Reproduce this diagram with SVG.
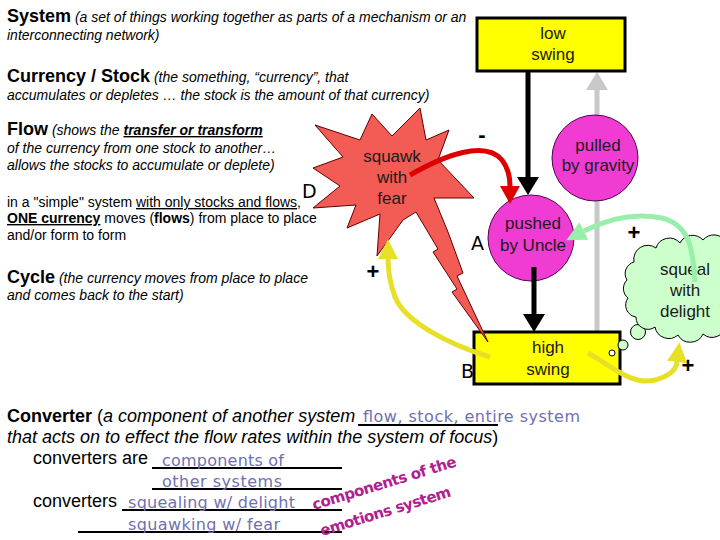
<svg xmlns="http://www.w3.org/2000/svg" width="720" height="540" viewBox="0 0 720 540">
<style>
  .sans { font-family: "Liberation Sans", Arial, sans-serif; fill: #000; }
  .h { font-weight: bold; font-size: 18px; }
  .it { font-style: italic; font-size: 14px; }
  .body { font-size: 14px; }
  .big { font-size: 18px; }
  .node { font-family: "Liberation Sans", Arial, sans-serif; font-size: 17px; fill: #1a1a1a; text-anchor: middle; }
  .hand { font-family: "DejaVu Sans", sans-serif; font-size: 16px; fill: #7070b0; }
  .hand2 { font-family: "DejaVu Sans", sans-serif; font-size: 15px; font-weight: bold; fill: #b0208f; }
  .letter { font-family: "DejaVu Sans", sans-serif; font-size: 19px; fill: #000; }
  .sign { font-family: "Liberation Sans", Arial, sans-serif; font-size: 22px; font-weight: bold; fill: #000; text-anchor: middle; }
  .blank { stroke: #000; stroke-width: 2; }
  .box { fill: #ffff00; stroke: #000; stroke-width: 3; }
  .circ { fill: #f03cd2; stroke: #500050; stroke-width: 1; }
  .arrow { fill: none; stroke-width: 5; }
</style>
<defs>
  <marker id="ah-black" viewBox="0 0 18 22" refX="0" refY="11" markerWidth="18" markerHeight="22" orient="auto" markerUnits="userSpaceOnUse"><path d="M0,0 L18,11 L0,22 Z" fill="#000"/></marker>
  <marker id="ah-gray" viewBox="0 0 18 22" refX="0" refY="11" markerWidth="18" markerHeight="22" orient="auto" markerUnits="userSpaceOnUse"><path d="M0,0 L18,11 L0,22 Z" fill="#c8c8c8"/></marker>
  <marker id="ah-red" viewBox="0 0 18 20" refX="0" refY="10" markerWidth="18" markerHeight="20" orient="auto" markerUnits="userSpaceOnUse"><path d="M0,0 L18,10 L0,20 Z" fill="#dd0000"/></marker>
  <marker id="ah-yellow" viewBox="0 0 20 20" refX="0" refY="10" markerWidth="20" markerHeight="20" orient="auto" markerUnits="userSpaceOnUse"><path d="M0,0 L20,10 L0,20 Z" fill="#e8e028"/></marker>
  <marker id="ah-green" viewBox="0 0 20 20" refX="0" refY="10" markerWidth="20" markerHeight="20" orient="auto" markerUnits="userSpaceOnUse"><path d="M0,0 L20,10 L0,20 Z" fill="#99eeaa"/></marker>
</defs>
<rect width="720" height="540" fill="#fff"/>

<g id="text-definitions" class="sans">
  <text x="7" y="22"><tspan class="h">System</tspan><tspan class="it"> (a set of things working together as parts of a mechanism or an</tspan></text>
  <text x="7" y="40" class="it">interconnecting network)</text>
  <text x="7" y="82"><tspan class="h">Currency / Stock</tspan><tspan class="it"> (the something, “currency”, that</tspan></text>
  <text x="7" y="100" class="it">accumulates or depletes … the stock is the amount of that currency)</text>
  <text x="7" y="135"><tspan class="h">Flow</tspan><tspan class="it"> (shows the </tspan><tspan class="it" font-weight="bold" text-decoration="underline">transfer or transform</tspan></text>
  <text x="7" y="153" class="it">of the currency from one stock to another…</text>
  <text x="7" y="170" class="it">allows the stocks to accumulate or deplete)</text>
  <text x="7" y="207" class="body">in a "simple" system <tspan text-decoration="underline">with only stocks and flows</tspan>,</text>
  <text x="7" y="223" class="body"><tspan font-weight="bold" text-decoration="underline">ONE currency</tspan> moves (<tspan font-weight="bold">flows</tspan>) from place to place</text>
  <text x="7" y="240" class="body">and/or form to form</text>
  <text x="7" y="283"><tspan class="h">Cycle</tspan><tspan class="it"> (the currency moves from place to place</tspan></text>
  <text x="7" y="300" class="it">and comes back to the start)</text>
</g>

<g id="text-converter" class="sans">
  <text x="7" y="422" class="big"><tspan font-weight="bold">Converter</tspan> (<tspan font-style="italic">a component of another system</tspan></text>
  <text x="7" y="443" class="big"><tspan font-style="italic">that acts on to effect the flow rates within the system of focus</tspan>)</text>
  <text x="33" y="464" class="big">converters are</text>
  <text x="33" y="507" class="big">converters</text>
  <line class="blank" x1="358" y1="425" x2="498" y2="425"/>
  <line class="blank" x1="152" y1="468" x2="342" y2="468"/>
  <line class="blank" x1="152" y1="489" x2="342" y2="489"/>
  <line class="blank" x1="122" y1="510" x2="342" y2="510"/>
  <line class="blank" x1="78" y1="532" x2="342" y2="532"/>
  <text x="363" y="422" class="hand" textLength="217">flow, stock, entire system</text>
  <text x="162" y="466" class="hand" textLength="122">components of</text>
  <text x="162" y="487" class="hand" textLength="120">other systems</text>
  <text x="128" y="508" class="hand" textLength="167">squealing w/ delight</text>
  <text x="128" y="530" class="hand" textLength="152">squawking w/ fear</text>
  <text transform="translate(314,510) rotate(-17)" class="hand2" textLength="150">components of the</text>
  <text transform="translate(322,536) rotate(-17)" class="hand2" textLength="136">emotions system</text>
</g>

<g id="connector-gravity">
  <path class="arrow" d="M597,332 L597,90" stroke="#c8c8c8" stroke-width="6" marker-end="url(#ah-gray)"/>
</g>

<g id="label-D"><text x="302" y="198" class="letter">D</text></g>
<g id="label-B"><text x="461" y="378" class="letter">B</text></g>

<g id="low-swing">
  <rect class="box" x="477" y="18" width="148" height="53"/>
  <text x="553" y="39" class="node">low</text>
  <text x="553" y="60" class="node">swing</text>
</g>

<g id="high-swing">
  <rect class="box" x="474" y="332" width="146" height="52"/>
  <text x="548" y="353" class="node">high</text>
  <text x="548" y="375" class="node">swing</text>
  <circle cx="612" cy="353" r="3" fill="#fff" stroke="#000" stroke-width="1"/>
</g>

<g id="pulled-by-gravity">
  <circle class="circ" cx="595" cy="158" r="43"/>
  <text x="598" y="151" class="node">pulled</text>
  <text x="598" y="171" class="node">by gravity</text>
</g>

<g id="pushed-by-uncle">
  <circle class="circ" cx="531" cy="238" r="43"/>
  <text x="533" y="229" class="node">pushed</text>
  <text x="533" y="251" class="node">by Uncle</text>
  <text x="471" y="250" class="letter">A</text>
</g>

<g id="squawk-with-fear">
  <polygon fill="#f35b55" stroke="#600000" stroke-width="1" points="420,108 426,140 449,130 438,160 474,198 434,198 448,232 463,273 457,276 488,342 452,292 457,289 433,252 438,249 416,212 403,220 377,256 380,214 347,228 356,205 313,208 340,186 313,168 343,157 315,125 360,140 372,114 392,136"/>
  <text x="392" y="162" class="node">squawk</text>
  <text x="392" y="183" class="node">with</text>
  <text x="392" y="204" class="node">fear</text>
</g>

<g id="squeal-with-delight">
  <circle cx="623" cy="345" r="5" fill="#ccffcc" stroke="#000" stroke-width="1"/>
  <circle cx="638" cy="332" r="7.5" fill="#ccffcc" stroke="#000" stroke-width="1"/>
  <path fill="#ccffcc" stroke="#000" stroke-width="1" d="M634,262 A14 14 0 0 1 656,248 A14 14 0 0 1 680,243 A14 14 0 0 1 703,240 A14 14 0 0 1 726,242 L726,325 A14 14 0 0 1 703,334 A14 14 0 0 1 678,335 A14 14 0 0 1 655,327 A12 12 0 0 1 636,317 A12 12 0 0 1 628,298 A12 12 0 0 1 627,280 A12 12 0 0 1 634,262 Z"/>
  <text x="685" y="275" class="node">squeal</text>
  <text x="685" y="296" class="node">with</text>
  <text x="685" y="317" class="node">delight</text>
</g>

<g id="connectors">
  <path class="arrow" d="M528,71 L528,177" stroke="#000" marker-end="url(#ah-black)"/>
  <path class="arrow" d="M534,267 L534,314" stroke="#000" marker-end="url(#ah-black)"/>
  <path class="arrow" d="M410,175 C445,155 485,140 502,160 C508,168 510,176 510,186" stroke="#dd0000" marker-end="url(#ah-red)"/>
  <path class="arrow" d="M490,357 C450,345 405,322 395,297 C390,283 388,272 388,259" stroke="#e8e028" marker-end="url(#ah-yellow)"/>
  <path class="arrow" d="M588,353 C612,366 632,386 655,380 C670,376 676,370 677,362" stroke="#e8e028" marker-end="url(#ah-yellow)"/>
  <path class="arrow" d="M695,282 C693,250 690,225 662,218 C632,212 605,220 584,231" stroke="#99eeaa" marker-end="url(#ah-green)"/>
</g>

<g id="signs">
  <text x="482" y="142" class="sign">-</text>
  <text x="373" y="279" class="sign">+</text>
  <text x="634" y="240" class="sign">+</text>
  <text x="688" y="373" class="sign">+</text>
</g>
</svg>
